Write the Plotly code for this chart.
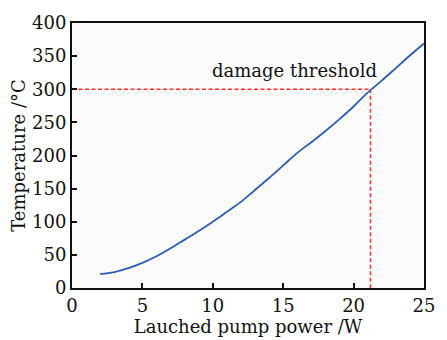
import plotly.graph_objects as go

power = [2, 3, 4, 5, 6, 7, 8, 9, 10, 11, 12, 13, 14, 15, 16, 17, 18, 19, 20, 21, 22, 23, 24, 25]
temperature = [21, 24, 30, 38, 48, 60, 73, 86, 100, 115, 130, 148, 166, 185, 204, 220, 237, 255, 274, 295, 313, 332, 351, 369]
threshold_temp = 300
threshold_power = 21.2
x_ticks = [0, 5, 10, 15, 20, 25]
y_ticks = [0, 50, 100, 150, 200, 250, 300, 350, 400]

font_family = "DejaVu Serif"

fig = go.Figure()
fig.add_trace(go.Scatter(x=[0, threshold_power], y=[threshold_temp, threshold_temp], mode="lines",
                         line=dict(color="#ff2a2a", width=1.5, dash="4px,2.5px"), showlegend=False))
fig.add_trace(go.Scatter(x=[threshold_power, threshold_power], y=[threshold_temp, 0], mode="lines",
                         line=dict(color="#ff2a2a", width=1.5, dash="4px,2.5px"), showlegend=False))
fig.add_trace(go.Scatter(x=power, y=temperature, mode="lines", line_shape="spline",
                         line=dict(color="#2c5db0", width=1.8), showlegend=False))

fig.add_annotation(x=15.8, y=328, text="damage threshold", showarrow=False,
                   font=dict(family=font_family, size=18, color="#111"), xanchor="center", yanchor="middle")

axis_common = dict(showline=True, linecolor="#111", linewidth=2, mirror=True,
                   ticks="inside", ticklen=5, tickwidth=1.5, tickcolor="#111",
                   showgrid=False, zeroline=False,
                   tickfont=dict(family=font_family, size=18, color="#111"))

fig.update_xaxes(range=[0, 25], tickvals=x_ticks, **axis_common,
                 title=dict(text="Lauched pump power /W", standoff=0,
                            font=dict(family=font_family, size=18, color="#111")))
fig.update_yaxes(range=[0, 400], tickvals=y_ticks, **axis_common,
                 title=dict(text="Temperature /°C", standoff=2,
                            font=dict(family=font_family, size=18, color="#111")))

fig.update_layout(width=447, height=340, margin=dict(l=72, r=22, t=16, b=46),
                  paper_bgcolor="#ffffff", plot_bgcolor="#fbfbfb")

fig.write_html("out.html")
